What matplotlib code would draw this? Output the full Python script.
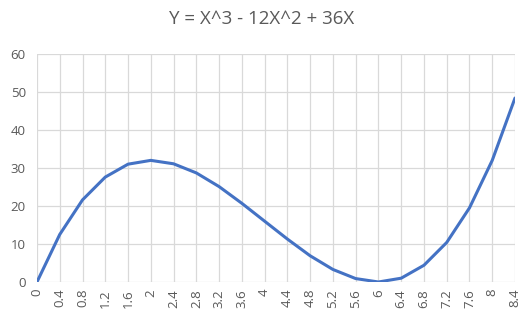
import matplotlib
matplotlib.use('Agg')
import matplotlib.pyplot as plt

# data
x_labels = ['0', '0.4', '0.8', '1.2', '1.6', '2', '2.4', '2.8', '3.2', '3.6', '4',
            '4.4', '4.8', '5.2', '5.6', '6', '6.4', '6.8', '7.2', '7.6', '8', '8.4']
y_values = [0, 12.5, 21.6, 27.6, 31.0, 32.0, 31.1, 28.7, 25.1, 20.7, 16.0,
            11.3, 6.9, 3.3, 0.9, 0, 1.0, 4.4, 10.4, 19.5, 32.0, 48.4]
y_ticks = [0, 10, 20, 30, 40, 50, 60]

plt.rcParams['font.family'] = ['Open Sans', 'DejaVu Sans']

fig = plt.figure(figsize=(5.23, 3.09), dpi=100)
ax = fig.add_axes([0.0707, 0.0874, 0.914, 0.738])

pos = list(range(len(x_labels)))
ax.plot(pos, y_values, color='#4472C4', linewidth=2.2, solid_capstyle='round', zorder=3)

ax.set_xlim(0, len(x_labels) - 1)
ax.set_ylim(0, 60)
ax.set_yticks(y_ticks)
ax.set_xticks(pos)
ax.set_xticklabels(x_labels, rotation=90)

ax.grid(True, color='#d9d9d9', linewidth=0.9)
ax.set_axisbelow(True)
for s in ax.spines.values():
    s.set_visible(False)
ax.tick_params(length=0, colors='#595959', labelsize=9.5)
ax.tick_params(axis='y', pad=8)
ax.tick_params(axis='x', pad=5)

fig.text(0.5, 0.94, 'Y = X^3 - 12X^2 + 36X', ha='center', va='center',
         fontsize=13.5, color='#595959')

fig.savefig('out.png', dpi=100)
